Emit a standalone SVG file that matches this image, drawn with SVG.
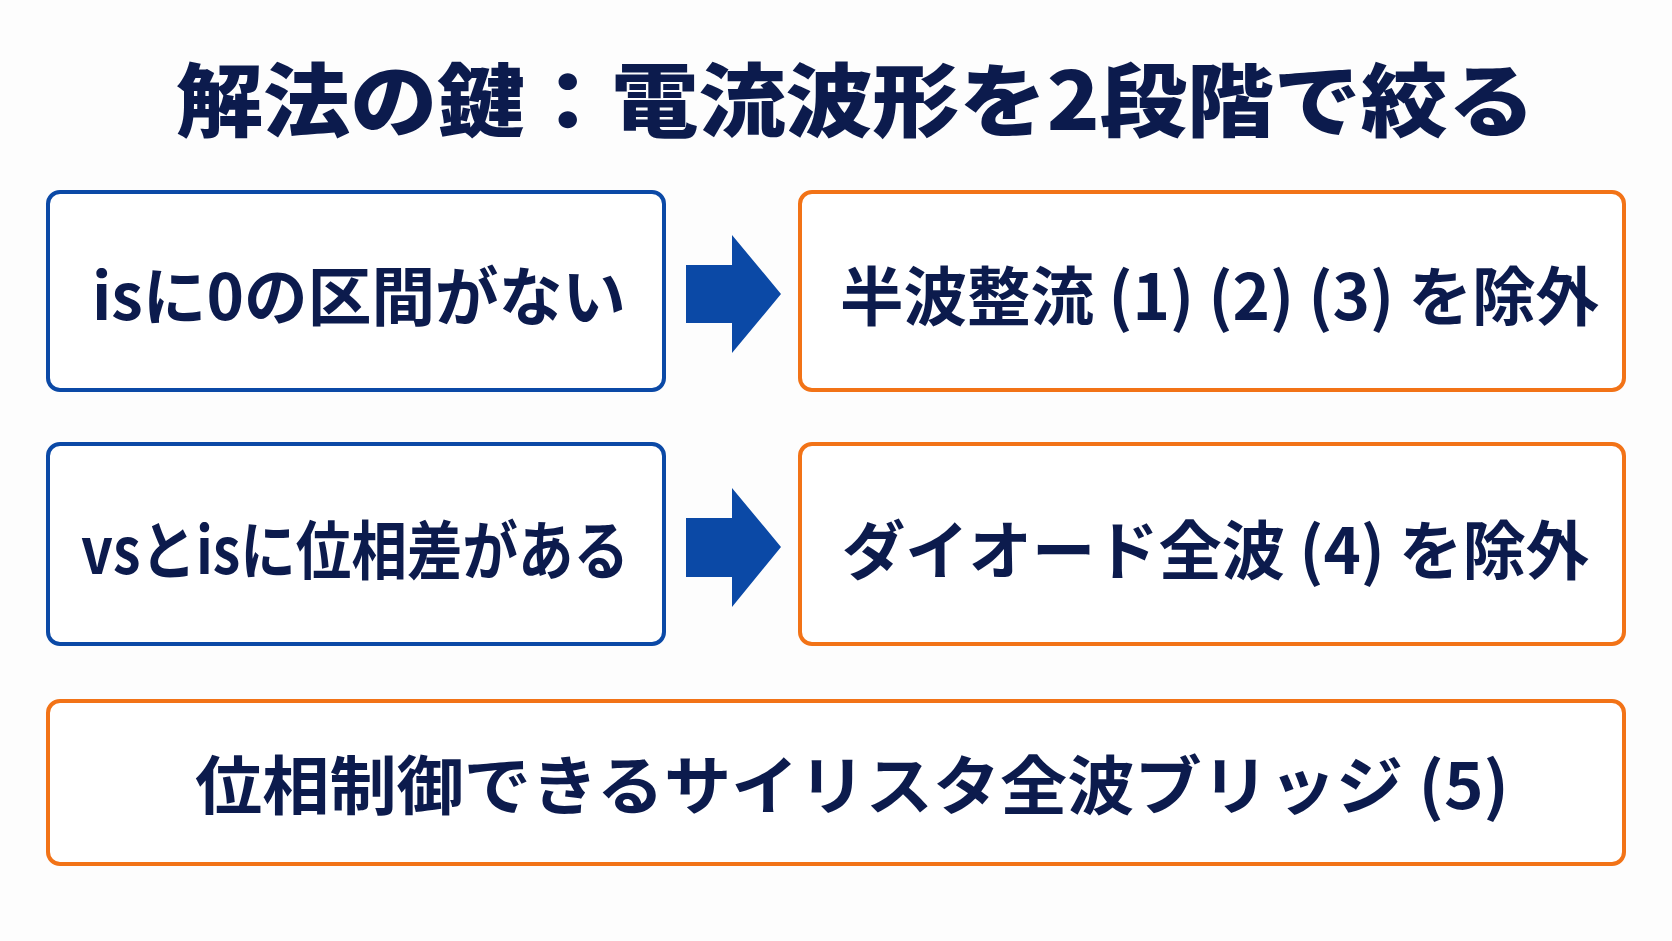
<svg xmlns="http://www.w3.org/2000/svg" width="1672" height="941" viewBox="0 0 1672 941">
<style>
  .bg{fill:#fdfdfd}
  .nb{fill:#ffffff;stroke:#0b49a6;stroke-width:4}
  .no{fill:#ffffff;stroke:#f27317;stroke-width:4}
  .t{font-family:"Noto Sans CJK JP","Noto Sans",sans-serif;font-weight:700;font-size:64px;fill:#0c1b4d;dominant-baseline:central}
  .title{font-family:"Noto Sans CJK JP","Noto Sans",sans-serif;font-weight:900;font-size:80px;fill:#0c1b4d;dominant-baseline:central}
  .arr{fill:#0b49a6}
</style>
<rect class="bg" x="0" y="0" width="1672" height="941"/>
<g id="title">
  <text class="title" x="176" y="95" textLength="1359" lengthAdjust="spacingAndGlyphs">解法の鍵：電流波形を2段階で絞る</text>
</g>
<g id="node-no-zero">
  <rect class="nb" x="48" y="192" width="616" height="198" rx="12"/>
  <text class="t" x="92" y="292" textLength="534" lengthAdjust="spacingAndGlyphs">isに0の区間がない</text>
</g>
<g id="node-exclude-half">
  <rect class="no" x="800" y="192" width="824" height="198" rx="12"/>
  <text class="t" x="840" y="292" textLength="759" lengthAdjust="spacingAndGlyphs">半波整流 (1) (2) (3) を除外</text>
</g>
<g id="node-phase-diff">
  <rect class="nb" x="48" y="444" width="616" height="200" rx="12"/>
  <text class="t" x="81" y="546" textLength="548" lengthAdjust="spacingAndGlyphs">vsとisに位相差がある</text>
</g>
<g id="node-exclude-diode">
  <rect class="no" x="800" y="444" width="824" height="200" rx="12"/>
  <text class="t" x="842" y="546" textLength="747" lengthAdjust="spacingAndGlyphs">ダイオード全波 (4) を除外</text>
</g>
<g id="node-thyristor">
  <rect class="no" x="48" y="701" width="1576" height="163" rx="12"/>
  <text class="t" x="195" y="781" textLength="1314" lengthAdjust="spacingAndGlyphs">位相制御できるサイリスタ全波ブリッジ (5)</text>
</g>
<g id="connectors">
  <path class="arr" d="M686,265 H732 V235 L781,294 L732,353 V323 H686 Z"/>
  <path class="arr" d="M686,518 H732 V488 L781,547 L732,607 V577 H686 Z"/>
</g>
</svg>
